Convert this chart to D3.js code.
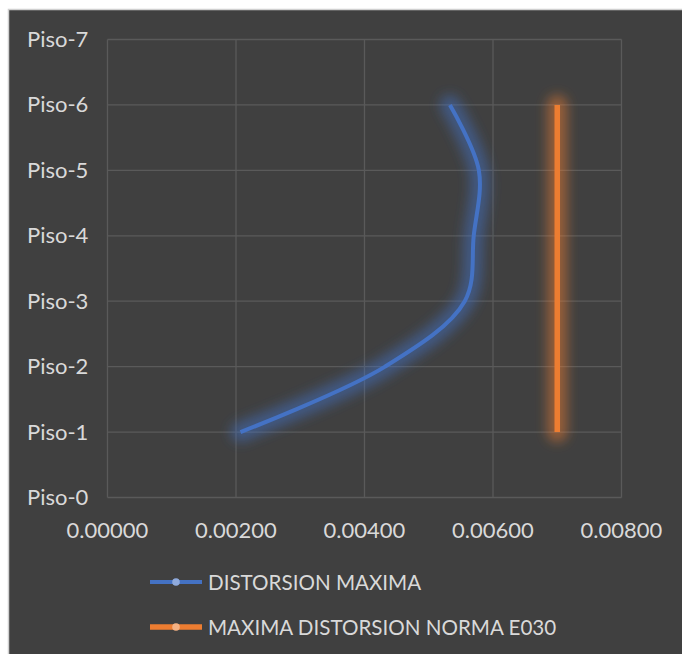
<!DOCTYPE html>
<html>
<head>
<meta charset="utf-8">
<script src="https://cdn.jsdelivr.net/npm/d3@7"></script>
<style>
  html, body { margin: 0; padding: 0; background: #ffffff; }
  svg { display: block; }
  text { font-family: Lato, "Open Sans", sans-serif; }
</style>
</head>
<body>
<script>
// Story labels along the vertical axis
const floors = ["Piso-0", "Piso-1", "Piso-2", "Piso-3", "Piso-4", "Piso-5", "Piso-6", "Piso-7"];
// Maximum drift per story (Piso-1 .. Piso-6)
const driftFloors = ["Piso-1", "Piso-2", "Piso-3", "Piso-4", "Piso-5", "Piso-6"];
const driftValues = [0.00207, 0.00432, 0.00556, 0.00570, 0.00578, 0.00533];
// E030 code limit
const limitValues = [0.007, 0.007, 0.007, 0.007, 0.007, 0.007];
const xTicks = [0, 0.002, 0.004, 0.006, 0.008];
const seriesNames = ["DISTORSION MAXIMA", "MAXIMA DISTORSION NORMA E030"];

const W = 682, H = 654;
const FS_AXIS = 22, FS_LEGEND = 20.6;
const svg = d3.select("body").append("svg").attr("width", W).attr("height", H);

// chart frame
svg.append("rect").attr("x", 0).attr("y", 0).attr("width", W).attr("height", H).attr("fill", "#ffffff");
svg.append("rect").attr("x", 8.5).attr("y", 9.5).attr("width", W).attr("height", H)
  .attr("fill", "#404040").attr("stroke", "#d0d0d0").attr("stroke-width", 1.5);

const defs = svg.append("defs");
const glow = defs.append("filter").attr("id", "glow")
  .attr("filterUnits", "userSpaceOnUse")
  .attr("x", 0).attr("y", 0).attr("width", W).attr("height", H);
glow.append("feGaussianBlur").attr("stdDeviation", 6);

const x = d3.scaleLinear().domain([0, 0.008]).range([107.5, 621.5]);
const y = d3.scalePoint().domain(floors).range([497.5, 39.5]);

const grid = svg.append("g");
// vertical gridlines
grid.selectAll("line.v").data(xTicks).join("line")
  .attr("x1", d => x(d)).attr("x2", d => x(d))
  .attr("y1", y("Piso-7")).attr("y2", y("Piso-0"))
  .attr("stroke", "#5a5a5a").attr("stroke-width", 1.3);
// horizontal gridlines
grid.selectAll("line.h").data(floors).join("line")
  .attr("x1", x(0)).attr("x2", x(0.008))
  .attr("y1", d => y(d)).attr("y2", d => y(d))
  .attr("stroke", "#5a5a5a").attr("stroke-width", 1.3);

// y axis labels
svg.append("g").selectAll("text").data(floors).join("text")
  .attr("x", 27).attr("y", d => y(d) - 1)
  .attr("dominant-baseline", "central")
  .attr("fill", "#d9d9d9").attr("font-size", FS_AXIS)
  .text(d => d);

// x axis labels
svg.append("g").selectAll("text").data(xTicks).join("text")
  .attr("x", d => x(d)).attr("y", 529)
  .attr("text-anchor", "middle").attr("dominant-baseline", "central")
  .attr("fill", "#d9d9d9").attr("font-size", FS_AXIS)
  .text(d => d3.format(".5f")(d));

const line = d3.line().x(d => x(d.v)).y(d => y(d.f)).curve(d3.curveCatmullRom.alpha(0.5));

const series = [
  { name: seriesNames[0], color: "#4472c4", light: "#8faadc", width: 4,
    data: driftFloors.map((f, i) => ({ f, v: driftValues[i] })) },
  { name: seriesNames[1], color: "#ed7d31", light: "#f4b183", width: 5.5,
    data: driftFloors.map((f, i) => ({ f, v: limitValues[i] })) }
];

const plot = svg.append("g");
series.forEach(s => {
  plot.append("path").datum(s.data).attr("d", line)
    .attr("fill", "none").attr("stroke", s.color).attr("stroke-opacity", 0.5)
    .attr("stroke-width", 20).attr("stroke-linecap", "round")
    .attr("filter", "url(#glow)");
});
series.forEach(s => {
  plot.append("path").datum(s.data).attr("d", line)
    .attr("fill", "none").attr("stroke", s.color)
    .attr("stroke-width", s.width).attr("stroke-linecap", "butt");
});

// legend
const leg = svg.append("g");
series.forEach((s, i) => {
  const ly = 582 + i * 45;
  leg.append("line").attr("x1", 150).attr("x2", 202).attr("y1", ly).attr("y2", ly)
    .attr("stroke", s.color).attr("stroke-width", s.width);
  leg.append("circle").attr("cx", 176).attr("cy", ly).attr("r", 3.8).attr("fill", s.light);
  leg.append("text").attr("x", 208).attr("y", ly)
    .attr("dominant-baseline", "central")
    .attr("fill", "#d9d9d9").attr("font-size", FS_LEGEND)
    .text(s.name);
});
</script>
</body>
</html>
